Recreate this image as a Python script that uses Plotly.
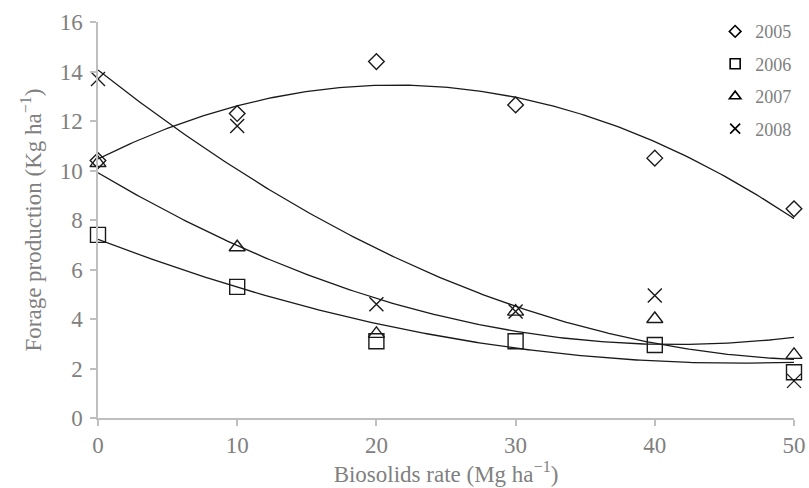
import numpy as np
import plotly.graph_objects as go

rates = [0, 10, 20, 30, 40, 50]
years = ["2005", "2006", "2007", "2008"]
y2005 = [10.4, 12.3, 14.4, 12.65, 10.5, 8.45]
y2006 = [7.4, 5.3, 3.1, 3.1, 2.95, 1.85]
y2007 = [10.3, 6.9, 3.4, 4.3, 4.0, 2.55]
y2008 = [13.7, 11.8, 4.6, 4.3, 4.95, 1.5]
symbols = ["diamond", "square", "triangle-up", "x-thin"]
sizes = [12, 15, 14, 14]
legend_sizes = [9, 10, 10, 10]
series = [y2005, y2006, y2007, y2008]

FONT = "Liberation Serif"
GRAY = "#808080"
INK = "#1a1a1a"

fig = go.Figure()

xs = np.linspace(min(rates), max(rates), 200)
for ys in series:
    coef = np.polyfit(rates, ys, 2)
    fig.add_trace(go.Scatter(x=xs, y=np.polyval(coef, xs), mode="lines",
                             line=dict(color=INK, width=1.3), showlegend=False,
                             hoverinfo="skip", cliponaxis=False))

for name, ys, sym, sz in zip(years, series, symbols, sizes):
    fig.add_trace(go.Scatter(x=rates, y=ys, mode="markers", name=name,
                             legendgroup=name, showlegend=False,
                             marker=dict(symbol=sym, size=sz, color="rgba(0,0,0,0)",
                                         line=dict(color=INK, width=1.4)),
                             cliponaxis=False))

# legend-only entries with small symbols
for name, sym, sz in zip(years, symbols, legend_sizes):
    fig.add_trace(go.Scatter(x=[None], y=[None], mode="markers", name=name,
                             legendgroup=name, showlegend=True,
                             marker=dict(symbol=sym, size=sz, color="rgba(0,0,0,0)",
                                         line=dict(color="black", width=1.6))))

fig.update_layout(
    width=809, height=488,
    margin=dict(l=98, r=15, t=22, b=70, autoexpand=False),
    paper_bgcolor="white", plot_bgcolor="white",
    font=dict(family=FONT, color=GRAY, size=23),
    legend=dict(xref="container", yref="container",
                x=0.884, y=0.973, xanchor="left", yanchor="top",
                font=dict(size=18, color=GRAY, family=FONT),
                bgcolor="rgba(0,0,0,0)", itemwidth=30, tracegroupgap=6),
    xaxis=dict(range=[0, 50], tickvals=rates, showgrid=False, zeroline=False,
               automargin=False,
               showline=True, linecolor="#bfbfbf", linewidth=1.5,
               ticks="outside", tickcolor="#bfbfbf", ticklen=6, tickwidth=1.5,
               tickfont=dict(size=23, color=GRAY),
               title=dict(text="Biosolids rate (Mg ha<sup>\u22121</sup>)",
                          font=dict(size=23, color=GRAY), standoff=2)),
    yaxis=dict(range=[0, 16], tickvals=list(range(0, 17, 2)), showgrid=False,
               zeroline=False, automargin=False, ticklabelstandoff=3,
               showline=True, linecolor="#bfbfbf", linewidth=1.5,
               ticks="outside", tickcolor="#bfbfbf", ticklen=6, tickwidth=1.5,
               tickfont=dict(size=23, color=GRAY),
               title=dict(text="Forage production (Kg ha<sup>\u22121</sup>)",
                          font=dict(size=23, color=GRAY), standoff=12)),
)

fig.write_html("out.html", config={"displayModeBar": False},
               post_script="document.body.style.margin='0';")
